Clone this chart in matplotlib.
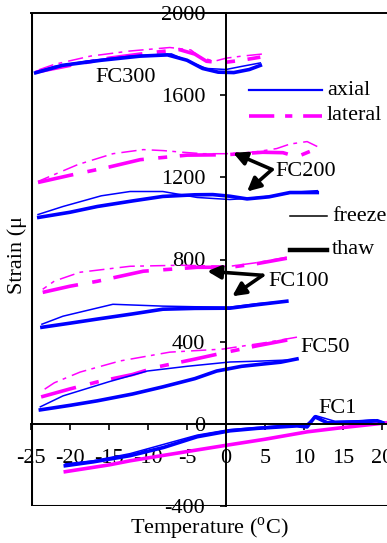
import matplotlib
matplotlib.use("Agg")
import matplotlib.pyplot as plt

plt.rcParams["font.family"] = ["Liberation Serif", "DejaVu Serif"]
plt.rcParams["mathtext.fontset"] = "custom"
plt.rcParams["mathtext.rm"] = "Liberation Serif"
plt.rcParams["axes.unicode_minus"] = False

BLUE = "#0000ff"
MAGENTA = "#ff00ff"

# temperature (C) / strain (micro) pairs, freeze = thin, thaw = thick
fc300_ax_frz_t = [4.4, 2.0, 0.0, -2.5, -4.5, -7.0, -12.3, -18, -22, -24.4]
fc300_ax_frz_s = [1757, 1740, 1725, 1730, 1760, 1801, 1790, 1765, 1740, 1712]
fc300_ax_thw_t = [-24.4, -21, -16, -11, -7.5, -5, -3, -1, 1, 3, 4.4]
fc300_ax_thw_s = [1709, 1745, 1770, 1790, 1796, 1770, 1730, 1712, 1710, 1725, 1745]
fc300_lat_frz_t = [4.6, 2, 0, -1.5, -3.3, -4.5, -7.2, -12.3, -17.4, -22, -24.4]
fc300_lat_frz_s = [1800, 1790, 1780, 1765, 1785, 1820, 1832, 1815, 1790, 1750, 1718]
fc300_lat_thw_t = [-24.4, -20, -15, -10, -6, -4, -2.5, -0.5, 2, 4.4]
fc300_lat_thw_s = [1712, 1745, 1780, 1805, 1822, 1800, 1765, 1758, 1770, 1785]

fc200_ax_frz_t = [11.7, 9, 6, 3, 0.5, -3.7, -8.1, -12.3, -16, -20.9, -24.1]
fc200_ax_frz_s = [1135, 1128, 1110, 1098, 1092, 1102, 1131, 1131, 1110, 1058, 1019]
fc200_ax_thw_t = [-24, -20, -16.5, -12, -8.1, -4, -1.7, 0.5, 2.7, 5.5, 8.2, 11.7]
fc200_ax_thw_s = [1005, 1030, 1058, 1085, 1107, 1115, 1116, 1108, 1095, 1105, 1126, 1126]
fc200_lat_frz_t = [11.7, 10.4, 8.2, 6.5, 4, 2, 0, -3, -5.5, -8, -10.6, -14.5, -19, -24.1]
fc200_lat_frz_s = [1350, 1374, 1362, 1340, 1325, 1318, 1315, 1315, 1322, 1330, 1335, 1315, 1262, 1180]
fc200_lat_thw_t = [-24.1, -20, -15, -11, -5, 0, 4.7, 7.3, 9.1, 11]
fc200_lat_thw_s = [1175, 1210, 1250, 1286, 1308, 1310, 1322, 1320, 1300, 1330]

fc100_ax_frz_t = [7.8, 4, 0.5, -4, -8.1, -14.5, -20.9, -23.6]
fc100_ax_frz_s = [597, 585, 568, 570, 573, 582, 524, 485]
fc100_ax_thw_t = [-23.6, -20, -16.5, -12, -8.1, -4, 0.5, 4, 7.8]
fc100_ax_thw_s = [470, 490, 510, 535, 558, 562, 563, 580, 597]
fc100_lat_frz_t = [7.8, 4, 0.5, -5.9, -12.3, -18.7, -22, -23.5]
fc100_lat_frz_s = [811, 785, 767, 772, 767, 738, 695, 655]
fc100_lat_thw_t = [-23.5, -20, -16.5, -10.6, -3.7, 0.5, 4, 7.8]
fc100_lat_thw_s = [640, 670, 694, 743, 762, 762, 780, 806]

fc50_ax_frz_t = [8.2, 4, 0.5, -5, -10.1, -15, -20.9, -23.8]
fc50_ax_frz_s = [311, 305, 301, 280, 257, 205, 136, 83]
fc50_ax_thw_t = [-23.8, -20, -16.5, -12, -8.1, -4, -1.2, 2, 4.7, 7, 9.1]
fc50_ax_thw_s = [68, 90, 112, 145, 180, 220, 257, 280, 291, 300, 316]
fc50_lat_frz_t = [9.1, 5, -0.4, -7.2, -13.6, -18.7, -22, -23.8]
fc50_lat_frz_s = [422, 395, 364, 349, 306, 252, 200, 155]
fc50_lat_thw_t = [-23.7, -20, -16.5, -12, -8.8, -4, -0.4, 4, 9.1]
fc50_lat_thw_s = [131, 170, 204, 240, 277, 315, 345, 380, 417]

fc1_ax_frz_t = [20.1, 19, 17, 14, 11.5, 11.0, 10.4, 8, 4, 0.5, -3.7, -8, -12.3, -17, -20.6]
fc1_ax_frz_s = [10, 20, 15, 12, 40, 20, 0, -5, -18, -28, -55, -100, -145, -180, -195]
fc1_ax_thw_t = [-20.6, -17, -12.3, -8, -3.7, 0.5, 4, 9.1, 10.4, 11.4, 13, 17.6, 19.4, 20.1]
fc1_ax_thw_s = [-204, -185, -155, -115, -63, -34, -22, -10, -15, 34, 5, 10, 15, 5]
fc1_lat_t = [-20.6, -15, -12.3, -5, -0.4, 5, 10.4, 15, 19.4, 20.5]
fc1_lat_s = [-233, -200, -180, -135, -107, -75, -39, -18, 0, 5]

x_ticks = [-25, -20, -15, -10, -5, 0, 5, 10, 15, 20]
y_ticks = [-400, 0, 400, 800, 1200, 1600, 2000]

DASHDOT = (0, (10, 4, 2.5, 3.5))
THIN, THICK = 1.1, 2.6

fig = plt.figure(figsize=(3.87, 5.43), dpi=100)
ax = fig.add_axes([31 / 387, 37 / 543, 390 / 387, 493 / 543])

groups = [
    (fc300_ax_frz_t, fc300_ax_frz_s, fc300_ax_thw_t, fc300_ax_thw_s,
     fc300_lat_frz_t, fc300_lat_frz_s, fc300_lat_thw_t, fc300_lat_thw_s),
    (fc200_ax_frz_t, fc200_ax_frz_s, fc200_ax_thw_t, fc200_ax_thw_s,
     fc200_lat_frz_t, fc200_lat_frz_s, fc200_lat_thw_t, fc200_lat_thw_s),
    (fc100_ax_frz_t, fc100_ax_frz_s, fc100_ax_thw_t, fc100_ax_thw_s,
     fc100_lat_frz_t, fc100_lat_frz_s, fc100_lat_thw_t, fc100_lat_thw_s),
    (fc50_ax_frz_t, fc50_ax_frz_s, fc50_ax_thw_t, fc50_ax_thw_s,
     fc50_lat_frz_t, fc50_lat_frz_s, fc50_lat_thw_t, fc50_lat_thw_s),
]
for aft, afs, att, ats, lft, lfs, ltt, lts in groups:
    ax.plot(lft, lfs, color=MAGENTA, lw=THIN, linestyle=DASHDOT)
    ax.plot(ltt, lts, color=MAGENTA, lw=THICK, linestyle=DASHDOT)
    ax.plot(aft, afs, color=BLUE, lw=THIN)
    ax.plot(att, ats, color=BLUE, lw=THICK)

ax.plot(fc1_lat_t, fc1_lat_s, color=MAGENTA, lw=THICK)
ax.plot(fc1_ax_frz_t, fc1_ax_frz_s, color=BLUE, lw=THIN)
ax.plot(fc1_ax_thw_t, fc1_ax_thw_s, color=BLUE, lw=THICK)

ax.set_xlim(-25, 25)
ax.set_ylim(-400, 2000)
ax.spines["left"].set_position(("data", 0))
ax.spines["bottom"].set_position(("data", 0))
for sp in ax.spines.values():
    sp.set_linewidth(1.4)
ax.axvline(-25, color="k", lw=2.2)
ax.axhline(-400, color="k", lw=2.2)
ax.set_xticks(x_ticks)
ax.set_yticks(y_ticks)
ax.tick_params(direction="out", length=4, width=1.2, labelsize=16)
ax.tick_params(axis="y", pad=11)
ax.tick_params(axis="x", pad=14)
ax.patch.set_alpha(0)

# labels
txt = dict(fontsize=16, color="k")
ax.text(-12.9, 1685, "FC300", ha="center", va="center", **txt)
ax.text(6.3, 1228, "FC200", ha="left", va="center", **txt)
ax.text(5.4, 694, "FC100", ha="left", va="center", **txt)
ax.text(9.5, 374, "FC50", ha="left", va="center", **txt)
ax.text(11.8, 73, "FC1", ha="left", va="center", **txt)

arrow = dict(arrowstyle="-|>", lw=2.6, color="k", mutation_scale=20, shrinkA=0, shrinkB=0)
ax.annotate("", xy=(0.9, 1320), xytext=(5.9, 1238), arrowprops=arrow)
ax.annotate("", xy=(2.7, 1131), xytext=(5.9, 1238), arrowprops=arrow)
ax.annotate("", xy=(-2.4, 743), xytext=(4.7, 723), arrowprops=arrow)
ax.annotate("", xy=(0.8, 621), xytext=(4.7, 723), arrowprops=arrow)

# key lines in axes fraction
def key(x0, x1, y, label, **style):
    ax.plot([x0, x1], [y, y], transform=ax.transAxes, clip_on=False, **style)
    ax.text(x1 + 0.013, y, label, transform=ax.transAxes, ha="left", va="center",
            fontsize=16, clip_on=False)

key(0.559, 0.746, 0.8436, "axial", color=BLUE, lw=1.6)
key(0.559, 0.746, 0.7911, "lateral", color=MAGENTA, lw=2.6, linestyle=(0, (7, 3, 2, 3)))
key(0.664, 0.759, 0.5882, "freeze", color="k", lw=1.1)
key(0.664, 0.759, 0.5193, "thaw", color="k", lw=3.2)

fig.text(17 / 387, 1 - 255 / 543, "Strain (\u03bc", rotation=90, ha="center", va="center", fontsize=16)
fig.text(209 / 387, 1 - 529 / 543, "Temperature ($^{\\rm o}$C)", ha="center", va="center", fontsize=16)

fig.savefig("out.png", dpi=100)
